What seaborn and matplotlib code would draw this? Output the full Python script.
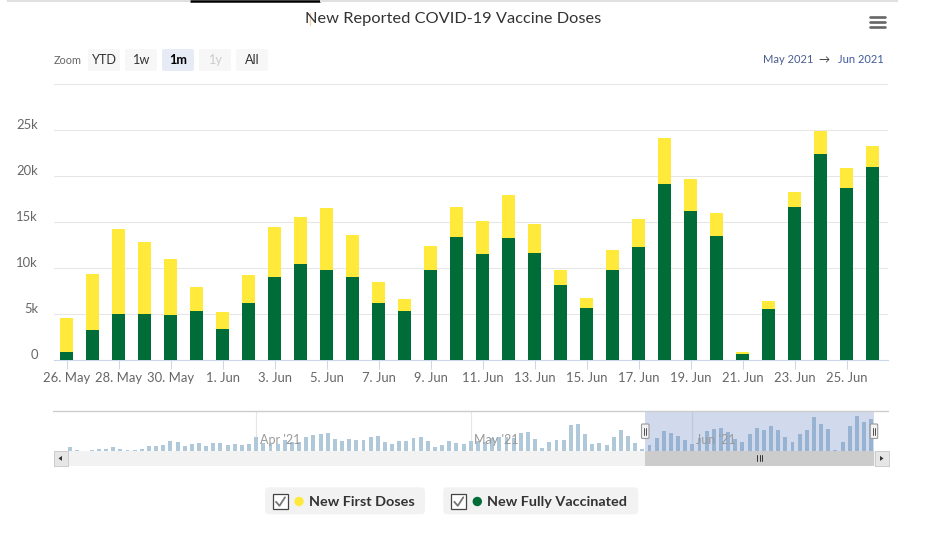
import matplotlib
matplotlib.use("Agg")
import numpy as np
import pandas as pd
import matplotlib.pyplot as plt
import seaborn as sns
from matplotlib.patches import Rectangle, FancyBboxPatch, Circle, Polygon
from matplotlib.transforms import ScaledTranslation

# ---------------- data ----------------
title = "New Reported COVID-19 Vaccine Doses"
start_date = "2021-05-26"
first_doses = [3700, 6050, 9240, 7830, 6090, 2610, 1850, 3040, 5440, 5110, 6740, 4570,
               2280, 1300, 2610, 3260, 3590, 4670, 3150, 1630, 1090, 2170, 3040, 5000,
               3480, 2500, 220, 870, 1630, 2500, 2170, 2280]
fully_vaccinated = [910, 3330, 5040, 5040, 4930, 5360, 3410, 6230, 9060, 10470, 9820, 9060,
                    6230, 5360, 9820, 13410, 11560, 13300, 11670, 8190, 5690, 9820, 12320, 19170,
                    16230, 13510, 690, 5580, 16670, 22430, 18730, 21010]
x_tick_labels = ["26. May", "28. May", "30. May", "1. Jun", "3. Jun", "5. Jun", "7. Jun",
                 "9. Jun", "11. Jun", "13. Jun", "15. Jun", "17. Jun", "19. Jun", "21. Jun",
                 "23. Jun", "25. Jun"]
y_ticks = [0, 5000, 10000, 15000, 20000, 25000, 30000]
y_tick_labels = ["0", "5k", "10k", "15k", "20k", "25k", ""]

# navigator: daily totals before the selected month (Mar 6 - May 25)
nav_start_date = "2021-03-06"
nav_earlier_totals = [2900, 700, 0, 700, 1400, 1400, 2900, 1400, 700, 700, 1400, 3600, 3600,
                      4300, 7200, 6500, 3600, 5000, 5800, 3600, 5800, 5800, 4300, 5000, 4300, 5000,
                      10300, 6000, 5300, 5300, 7700, 6200, 6700, 10300, 11800, 12200,
                      13000, 8400, 7000, 8400, 7700, 7700, 9800, 10600, 6200, 4800,
                      7000, 7000, 9100, 9800, 7000, 2600, 4100, 7000, 5500, 4800,
                      7000, 7200, 6700, 9100, 9800, 9800, 9600, 12700, 13400, 8400,
                      1900, 6200, 7700, 7700, 18500, 19200, 12000, 4800, 5800, 4100,
                      9800, 14900, 10600, 5500, 1200]
nav_month_starts = ["2021-04-01", "2021-05-01", "2021-06-01"]
nav_month_labels = ["Apr '21", "May '21", "Jun '21"]

legend_labels = ["New First Doses", "New Fully Vaccinated"]
zoom_buttons = ["YTD", "1w", "1m", "1y", "All"]
range_from, range_to = "May 2021", "Jun 2021"

YELLOW = "#ffe93b"
GREEN = "#006c37"

# ---------------- setup ----------------
sns.set_theme(style="white")
plt.rcParams["font.family"] = ["Lato", "DejaVu Sans"]

W, H = 930, 550
fig = plt.figure(figsize=(W / 100, H / 100), dpi=100)
fig.patch.set_facecolor("white")


def px_axes(x0, y0, x1, y1, **kw):
    return fig.add_axes([x0 / W, 1 - y1 / H, (x1 - x0) / W, (y1 - y0) / H], **kw)


dates = pd.date_range(start_date, periods=len(first_doses), freq="D")
df = pd.DataFrame({"date": dates, "first": first_doses, "fully": fully_vaccinated})
df["total"] = df["first"] + df["fully"]
df["idx"] = np.arange(len(df))

# ---------------- main chart ----------------
ax = px_axes(54, 84, 888, 360.3)
sns.barplot(data=df, x="idx", y="total", color=YELLOW, saturation=1, width=0.5,
            linewidth=0, errorbar=None, ax=ax, zorder=3)
sns.barplot(data=df, x="idx", y="fully", color=GREEN, saturation=1, width=0.5,
            linewidth=0, errorbar=None, ax=ax, zorder=4)
ax.set_xlim(-0.5, 31.58)
ax.set_ylim(0, 30000)
ax.set_yticks(y_ticks)
ax.set_yticklabels(y_tick_labels)
ax.set_xticks(list(range(0, len(df), 2)))
ax.set_xticklabels(x_tick_labels)
ax.set_xlabel("")
ax.set_ylabel("")
ax.grid(axis="y", color="#e6e6e6", linewidth=0.75, zorder=0)
ax.grid(axis="x", visible=False)
ax.set_axisbelow(True)
for s in ["top", "right", "left"]:
    ax.spines[s].set_visible(False)
ax.spines["bottom"].set_color("#ccd6eb")
ax.spines["bottom"].set_linewidth(0.8)
ax.tick_params(axis="x", length=6.5, width=0.75, color="#ccd6eb", labelcolor="#666666",
               labelsize=9.4, pad=2, bottom=True)
ax.tick_params(axis="y", length=0, labelcolor="#666666", labelsize=9.4, pad=11.5)
shift_up = ScaledTranslation(0, 6 / 100, fig.dpi_scale_trans)
for lab in ax.get_yticklabels():
    lab.set_transform(lab.get_transform() + shift_up)

# ---------------- navigator ----------------
nav_totals = nav_earlier_totals + list(df["total"])
nav_df = pd.DataFrame({"date": pd.date_range(nav_start_date, periods=len(nav_totals), freq="D"),
                       "total": nav_totals})
nav_df["nidx"] = np.arange(len(nav_df))
nav = px_axes(54, 411, 874, 451)
sns.barplot(data=nav_df, x="nidx", y="total", native_scale=True, color="#afc8da",
            saturation=1, width=0.55, linewidth=0, errorbar=None, ax=nav, zorder=3)
nav.set_xlim(-2.28, 112.4)
nav.set_ylim(0, 28800)
nav.axis("off")
d0 = pd.Timestamp(nav_start_date)
for ms, ml in zip(nav_month_starts, nav_month_labels):
    mi = (pd.Timestamp(ms) - d0).days
    nav.axvline(mi, color="#e6e6e6", linewidth=0.8, zorder=1)
    nav.text(mi + 0.5, 0.27, ml, transform=nav.get_xaxis_transform(), fontsize=9,
             color="#999999", va="center", ha="left", zorder=6)
sel_start = (dates[0] - d0).days - 0.6
sel_end = (dates[-1] - d0).days + 0.4
nav.add_patch(Rectangle((sel_start, 0), sel_end - sel_start, 1,
                        transform=nav.get_xaxis_transform(), facecolor="#6685c2",
                        alpha=0.3, linewidth=0, zorder=5))

# ---------------- overlay decorations ----------------
fg = fig.add_axes([0, 0, 1, 1], zorder=10)
fg.set_xlim(0, W)
fg.set_ylim(H, 0)
fg.axis("off")
fg.patch.set_alpha(0)

# top strip
fg.plot([7, 190], [0.8, 0.8], color="#e0e0e0", lw=1.5, solid_capstyle="butt")
fg.plot([190, 320], [0.8, 0.8], color="#000000", lw=1.8, solid_capstyle="butt")
fg.plot([320, 898], [0.8, 0.8], color="#e0e0e0", lw=1.5, solid_capstyle="butt")
fg.plot([309.5, 309.5], [13, 25], color="#f3d3a3", lw=1)

# title
fg.text(453, 18.5, title, ha="center", va="center", fontsize=11.8, color="#333333")

# hamburger
for yy in [17.3, 22.2, 27.2]:
    fg.plot([869.5, 884.5], [yy, yy], color="#666666", lw=1.9, solid_capstyle="round")

# zoom buttons
fg.text(54, 60.5, "Zoom", fontsize=7.8, color="#666666", va="center", ha="left")
for lab, x0 in zip(zoom_buttons, [88, 125, 162, 199, 236]):
    fc = "#e6ebf5" if lab == "1m" else "#f7f7f7"
    fg.add_patch(FancyBboxPatch((x0, 49), 32, 22, boxstyle="round,pad=0,rounding_size=2",
                                facecolor=fc, edgecolor="none"))
    col = "#000000" if lab == "1m" else ("#cccccc" if lab == "1y" else "#333333")
    fg.text(x0 + 16, 60.5, lab, fontsize=9.2, color=col, ha="center", va="center",
            fontweight="bold" if lab == "1m" else "normal")

# date range
fg.text(762.7, 59.5, range_from, fontsize=8, color="#4a5d8f", ha="left", va="center")
fg.text(824, 59.5, "\u2192", fontsize=8, color="#333333", ha="center", va="center")
fg.text(884, 59.5, range_to, fontsize=8, color="#3f5a9e", ha="right", va="center")

# navigator outline
fg.plot([53, 888], [411, 411], color="#cccccc", lw=1.0)

# navigator handles
for hx in [641.5, 870.2]:
    fg.add_patch(FancyBboxPatch((hx, 424), 7.5, 14.5, boxstyle="round,pad=0,rounding_size=1",
                                facecolor="#f2f2f2", edgecolor="#999999", lw=0.8))
    for lx in [hx + 2.8, hx + 4.8]:
        fg.plot([lx, lx], [427.5, 435], color="#333333", lw=0.6)

# scrollbar
fg.add_patch(Rectangle((54, 451.3), 834, 14.2, facecolor="#f2f2f2", edgecolor="none"))
fg.add_patch(Rectangle((645, 451.3), 229, 14.2, facecolor="#cccccc", edgecolor="none"))
for gx in [757, 759.5, 762]:
    fg.plot([gx, gx], [455.3, 461.3], color="#333333", lw=0.7)
for bx, direc in [(53.5, -1), (874.5, 1)]:
    fg.add_patch(Rectangle((bx, 451.3), 14, 14.2, facecolor="#e6e6e6", edgecolor="#cccccc", lw=0.7))
    cx, cy = bx + 7, 458.4
    pts = [(cx + 2 * direc, cy), (cx - 1.5 * direc, cy - 2.5), (cx - 1.5 * direc, cy + 2.5)]
    fg.add_patch(Polygon(pts, closed=True, facecolor="#333333", edgecolor="none"))

# legend
legend_items = [
    (legend_labels[0], YELLOW, 265, 160),
    (legend_labels[1], GREEN, 443.3, 195),
]
for lab, col, bx, bw in legend_items:
    fg.add_patch(FancyBboxPatch((bx, 487.3), bw, 27, boxstyle="round,pad=0,rounding_size=4",
                                facecolor="#f2f2f2", edgecolor="none"))
    fg.add_patch(Rectangle((bx + 8, 494.3), 15, 15, facecolor="white", edgecolor="#444444", lw=0.9))
    fg.plot([bx + 11, bx + 14.5, bx + 20], [501.8, 505.8, 497.3], color="#777777", lw=1.3)
    fg.add_patch(Circle((bx + 34, 501.5), 4.7, facecolor=col, edgecolor="none"))
    fg.text(bx + 44, 501.5, lab, fontsize=10.4, fontweight="bold", color="#333333",
            ha="left", va="center")

fig.savefig("out.png", dpi=100, facecolor="white")
